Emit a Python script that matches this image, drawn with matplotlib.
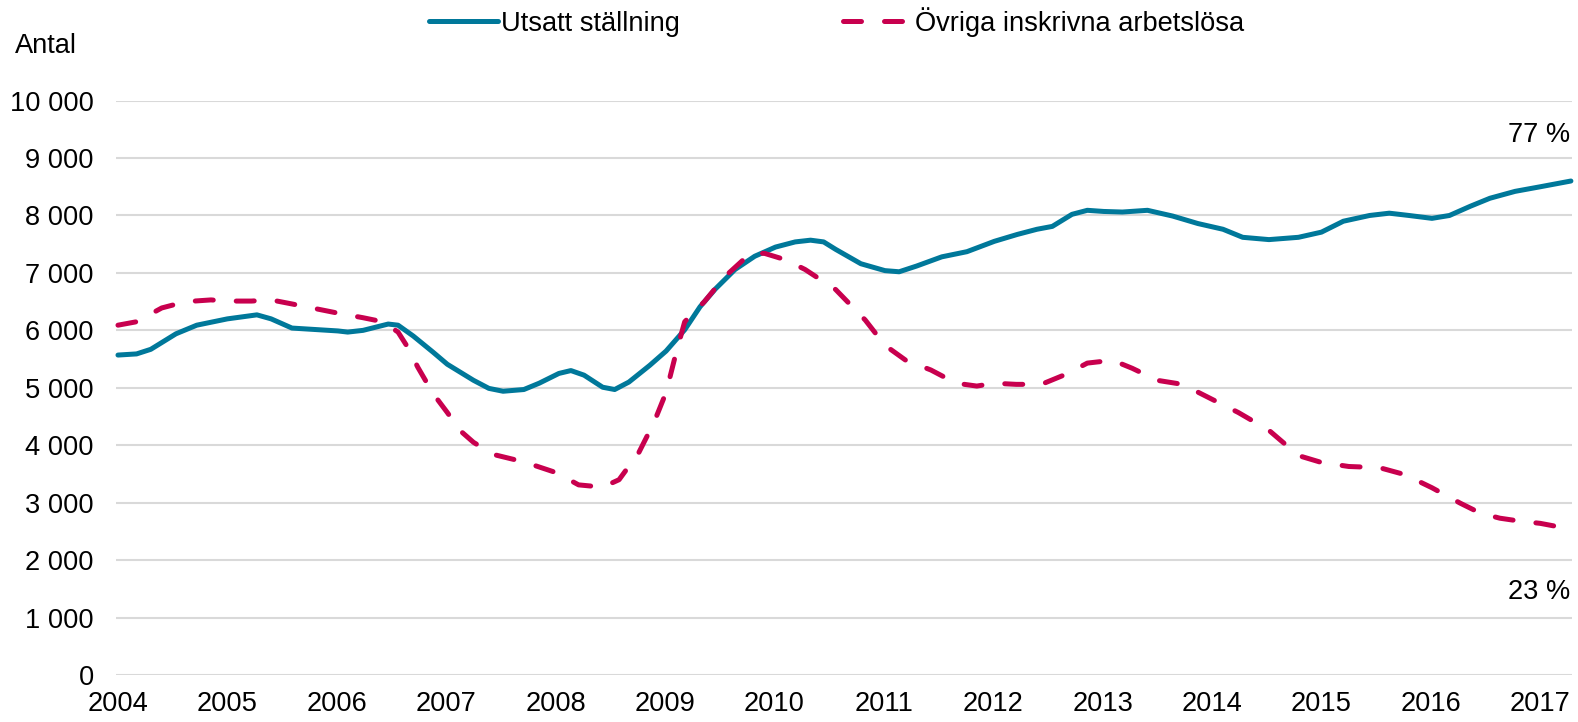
import matplotlib
matplotlib.use("Agg")
import matplotlib.pyplot as plt
from matplotlib.lines import Line2D

plt.rcParams['font.family'] = ['Liberation Sans', 'DejaVu Sans']

# Data
utsatt_x = [2004.00, 2004.17, 2004.30, 2004.53, 2004.72, 2005.00, 2005.27, 2005.40, 2005.59,
            2006.01, 2006.10, 2006.24, 2006.47, 2006.56, 2006.70, 2006.88, 2007.01,
            2007.25, 2007.39, 2007.52, 2007.71, 2007.85, 2008.03, 2008.14, 2008.26,
            2008.43, 2008.54, 2008.67, 2008.86, 2009.01, 2009.18, 2009.32, 2009.46,
            2009.64, 2009.82, 2010.01, 2010.19, 2010.33, 2010.45, 2010.56, 2010.79, 2011.01,
            2011.14, 2011.30, 2011.53, 2011.76, 2012.01, 2012.22, 2012.40, 2012.54,
            2012.72, 2012.86, 2013.01, 2013.18, 2013.41, 2013.64, 2013.87, 2014.10,
            2014.28, 2014.52, 2014.79, 2015.00, 2015.20, 2015.44, 2015.62, 2015.80,
            2016.01, 2016.17, 2016.36, 2016.54, 2016.77, 2017.00, 2017.28]
utsatt_y = [5570, 5590, 5670, 5940, 6090, 6200, 6270, 6200, 6040,
            5990, 5970, 6000, 6110, 6090, 5900, 5620, 5410,
            5130, 4990, 4940, 4970, 5080, 5250, 5300, 5220,
            5010, 4970, 5100, 5390, 5640, 6010, 6410, 6720,
            7060, 7290, 7450, 7540, 7570, 7540, 7410, 7160, 7040,
            7020, 7120, 7280, 7370, 7550, 7670, 7760, 7810,
            8020, 8090, 8070, 8060, 8090, 7990, 7860, 7760,
            7620, 7580, 7620, 7710, 7900, 8000, 8040, 8000,
            7950, 8000, 8160, 8300, 8420, 8500, 8600]

ovriga_x = [2004.00, 2004.17, 2004.40, 2004.62, 2004.85, 2005.00, 2005.22, 2005.40,
            2005.59, 2006.01, 2006.24, 2006.42, 2006.56, 2006.65, 2006.74, 2006.88, 2007.01,
            2007.13, 2007.25, 2007.43, 2007.71, 2008.01, 2008.21, 2008.43, 2008.58, 2008.76,
            2008.90, 2009.01, 2009.10, 2009.18, 2009.36, 2009.55, 2009.78, 2009.91, 2010.10,
            2010.28, 2010.56, 2010.83, 2011.01, 2011.20, 2011.43, 2011.66, 2011.85, 2012.01,
            2012.21, 2012.44, 2012.67, 2012.86, 2013.09, 2013.27, 2013.50, 2013.73, 2014.00,
            2014.24, 2014.52, 2014.79, 2015.00, 2015.25, 2015.53, 2015.76, 2016.01,
            2016.27, 2016.45, 2016.63, 2016.81, 2017.00, 2017.28]
ovriga_y = [6090, 6150, 6390, 6500, 6530, 6510, 6510, 6530,
            6460, 6300, 6220, 6150, 5970, 5700, 5360, 4900, 4570,
            4250, 4050, 3840, 3710, 3520, 3310, 3270, 3400, 3870,
            4400, 4920, 5600, 6150, 6500, 6940, 7340, 7340, 7230,
            7060, 6710, 6180, 5740, 5480, 5310, 5080, 5030, 5080,
            5060, 5060, 5240, 5430, 5480, 5340, 5130, 5060, 4800,
            4570, 4260, 3820, 3700, 3630, 3610, 3490, 3260,
            2990, 2820, 2730, 2680, 2640, 2540]

year_ticks = list(range(2004, 2018))
y_ticks = list(range(0, 10001, 1000))
y_tick_labels = ["0"] + [f"{v // 1000} 000" for v in y_ticks[1:]]

series_names = ["Utsatt ställning", "Övriga inskrivna arbetslösa"]
end_labels = ["77 %", "23 %"]

BLUE = "#00789A"
RED = "#C8004E"
FS = 19.6
LW = 3.6

fig = plt.figure(figsize=(15.78, 7.22), dpi=100)
ax = fig.add_axes([116 / 1578, 1 - 675 / 722, (1572 - 116) / 1578, (675 - 100.6) / 722])

ax.plot(utsatt_x, utsatt_y, color=BLUE, lw=LW, solid_capstyle='round',
        solid_joinstyle='round', clip_on=False, zorder=3)
ax.plot(ovriga_x, ovriga_y, color=RED, lw=LW, dashes=(3.6, 4.6),
        dash_capstyle='round', dash_joinstyle='round', clip_on=False, zorder=3)

ax.set_xlim(2004 - 0.018, 2017.29)
ax.set_ylim(0, 10000)
ax.set_yticks(y_ticks)
ax.set_yticklabels(y_tick_labels)
ax.set_xticks(year_ticks)
ax.set_xticklabels([str(y) for y in year_ticks])
ax.tick_params(axis='both', length=0, labelsize=FS, colors='black')
ax.tick_params(axis='y', pad=16)
ax.tick_params(axis='x', pad=11.5)
ax.grid(axis='y', color='#D9D9D9', lw=1.5)
ax.set_axisbelow(True)
for s in ax.spines.values():
    s.set_visible(False)

fig.text(15 / 1578, 1 - 46 / 722, "Antal", fontsize=FS, va='center', ha='left')
fig.text(1570 / 1578, 1 - 135 / 722, end_labels[0], fontsize=FS, va='center', ha='right')
fig.text(1570 / 1578, 1 - 592 / 722, end_labels[1], fontsize=FS, va='center', ha='right')

handles = [Line2D([], [], color=BLUE, lw=LW, solid_capstyle='round'),
           Line2D([], [], color=RED, lw=LW, dashes=(3.6, 4.6), dash_capstyle='round')]
fig.legend(handles, series_names, loc='center', bbox_to_anchor=(0.5303, 1 - 22 / 722),
           ncol=2, frameon=False, fontsize=FS, handlelength=2.55, handletextpad=0.1,
           columnspacing=6.0, borderaxespad=0)

fig.savefig("out.png", dpi=100)
